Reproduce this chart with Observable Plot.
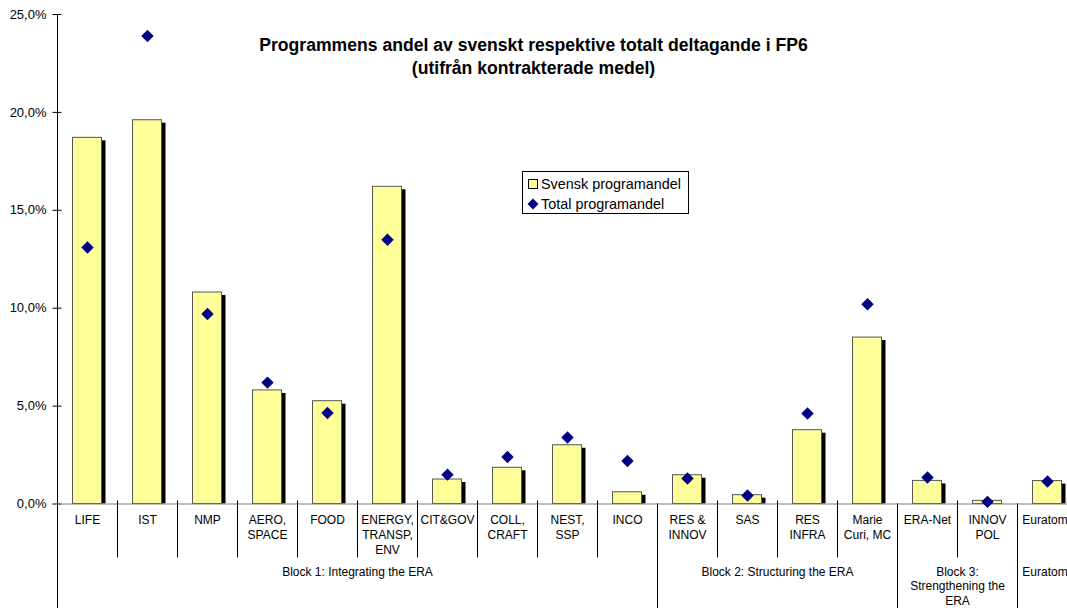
<!DOCTYPE html>
<html>
<head>
<meta charset="utf-8">
<script src="https://cdn.jsdelivr.net/npm/d3@7"></script>
<script src="https://cdn.jsdelivr.net/npm/@observablehq/plot@0.6"></script>
<style>
  body { margin: 0; background: #fff; }
  #wrap { position: relative; width: 1067px; height: 608px; overflow: hidden; font-family: "Liberation Sans", Arial, sans-serif; }
  #title { position: absolute; left: 0; width: 1067px; top: 34px; text-align: center; font-weight: bold; font-size: 17.6px; line-height: 23px; color: #000; }
  #legend { position: absolute; left: 522px; top: 171px; width: 165px; height: 41px; border: 1px solid #000; background: #fff; font-size: 14.4px; color: #000; }
  #legend .item { position: absolute; left: 4px; height: 16px; line-height: 16px; white-space: nowrap; }
  #legend svg { vertical-align: middle; margin-right: 2px; position: relative; top: -1px; }
</style>
</head>
<body>
<div id="wrap">
  <div id="chart"></div>
  <div id="title">Programmens andel av svenskt respektive totalt deltagande i FP6<br>(utifrån kontrakterade medel)</div>
  <div id="legend">
    <div class="item" style="top:4px"><svg width="12" height="12"><rect x="1.5" y="1.5" width="9" height="9" fill="#FFFF99" stroke="#000"/></svg>Svensk programandel</div>
    <div class="item" style="top:24px"><svg width="12" height="12"><path d="M6,0.5L11.5,6L6,11.5L0.5,6Z" fill="#000080"/></svg>Total programandel</div>
  </div>
</div>
<script>
const categories = ["LIFE", "IST", "NMP", "AERO,\nSPACE", "FOOD", "ENERGY,\nTRANSP,\nENV", "CIT&GOV", "COLL,\nCRAFT", "NEST,\nSSP", "INCO", "RES &\nINNOV", "SAS", "RES\nINFRA", "Marie\nCuri, MC", "ERA-Net", "INNOV\nPOL", "Euratom"];
const svenskAndel = [18.7, 19.6, 10.8, 5.8, 5.25, 16.2, 1.25, 1.85, 3.0, 0.6, 1.47, 0.45, 3.77, 8.5, 1.18, 0.16, 1.17];
const totalAndel = [13.1, 23.9, 9.7, 6.2, 4.65, 13.5, 1.5, 2.4, 3.4, 2.2, 1.3, 0.43, 4.62, 10.2, 1.35, 0.11, 1.15];
const blockLabels = ["Block 1: Integrating the ERA", "Block 2: Structuring the ERA", "Block 3:\nStrengthening the\nERA", "Euratom"];
const blockSizes = [10, 4, 2, 1];
const yTicks = [0, 5, 10, 15, 20, 25];

const data = categories.map((c, i) => ({cat: c, svensk: svenskAndel[i], total: totalAndel[i]}));
const bandW = 60;
const x0 = 57;
const xRange = [x0, x0 + bandW * categories.length];
const blockStarts = blockSizes.map((n, i) => d3.sum(blockSizes.slice(0, i)));
const shortDiv = categories.filter((c, i) => i > 0 && !blockStarts.includes(i));
const longDiv = categories.filter((c, i) => blockStarts.includes(i));
const font = "'Liberation Sans', Arial, sans-serif";
const labelFont = 12;
const lastIdx = categories.length - 1;
const edgeShift = -2.5; // keep the clipped last column's labels inside the window

const labelOpts = {lineAnchor: "top", lineHeight: 1.25, fontSize: labelFont, fill: "#000"};

const blockMarks = blockLabels.map((label, k) => Plot.text([label], {
  x: () => categories[blockStarts[k]],
  y: 0,
  text: d => d,
  dx: (blockSizes[k] - 1) * bandW / 2 + (blockStarts[k] === lastIdx ? edgeShift : 0),
  dy: 61.5,
  ...labelOpts,
  lineHeight: 1.2
}));

const chart = Plot.plot({
  width: 1067,
  height: 608,
  marginTop: 14,
  marginBottom: 104.5,
  marginLeft: 57,
  marginRight: 0,
  style: {fontFamily: font, background: "#fff", color: "#000"},
  x: {type: "band", domain: categories, range: xRange, padding: 0, axis: null},
  y: {domain: [0, 25]},
  marks: [
    Plot.axisY(yTicks, {
      tickSize: 9, dx: 4.5, tickPadding: 6.5,
      tickFormat: d => d.toFixed(1).replace(".", ",") + "%",
      fontSize: 13, label: null, stroke: "#000", fill: "#000"
    }),
    Plot.ruleX([categories[0]], {x: d => d, y1: 25, y2: 0, dx: -bandW / 2, stroke: "#000"}),
    Plot.barY(data, {x: "cat", y: "svensk", fill: "#000", dx: 4, dy: 3, insetBottom: 3, insetLeft: 15.5, insetRight: 15.5}),
    Plot.barY(data, {x: "cat", y: "svensk", fill: "#FFFF99", stroke: "#555", strokeWidth: 1, insetLeft: 15.5, insetRight: 15.5}),
    Plot.ruleY([0], {stroke: "#808080", strokeWidth: 1.2}),
    Plot.ruleX(shortDiv, {x: d => d, y1: 0, y2: 0, dx: -bandW / 2, insetTop: -3, insetBottom: -54, stroke: "#000"}),
    Plot.ruleX(longDiv, {x: d => d, y1: 0, y2: 0, dx: -bandW / 2, insetBottom: -105, stroke: "#000"}),
    Plot.dot(data, {x: "cat", y: "total", symbol: "diamond2", r: 5.6, fill: "#000080", stroke: "none"}),
    Plot.text(categories.slice(0, lastIdx), {x: d => d, y: 0, text: d => d, dy: 9.8, ...labelOpts}),
    Plot.text(categories.slice(lastIdx), {x: d => d, y: 0, text: d => d, dy: 9.8, dx: edgeShift, ...labelOpts}),
    ...blockMarks
  ]
});
document.getElementById("chart").appendChild(chart);
</script>
</body>
</html>
